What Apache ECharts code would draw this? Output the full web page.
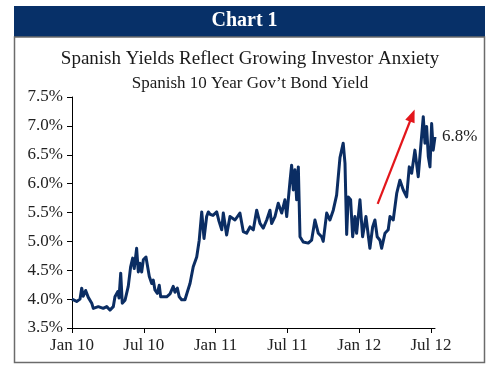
<!DOCTYPE html>
<html>
<head>
<meta charset="utf-8">
<script src="https://cdn.jsdelivr.net/npm/echarts@6/dist/echarts.min.js"></script>
<style>
  html, body { margin: 0; padding: 0; background: #ffffff; }
  #chart { width: 489px; height: 365px; }
</style>
</head>
<body>
<div id="chart"></div>
<script>
// Spanish 10-year government bond yield, Jan 2010 – Jul 2012.
// Positions are months since 1 Jan 2010; yields are in percent.
const months = [
  0, 0.39, 0.67, 0.81, 0.94, 1.14, 1.36, 1.50, 1.65, 1.78,
  2.20, 2.61, 2.90, 3.17, 3.45, 3.59, 3.82, 3.93, 4.07, 4.20,
  4.43, 4.70, 4.90, 5.07, 5.20, 5.40, 5.54, 5.68, 5.82, 5.96,
  6.18, 6.29, 6.46, 6.66, 6.79, 6.93, 7.13, 7.29, 7.41, 7.63,
  7.91, 8.19, 8.46, 8.60, 8.80, 8.96, 9.16, 9.44, 9.63, 9.86,
  10.13, 10.42, 10.63, 10.84, 11.03, 11.25, 11.39, 11.53, 11.78, 12.09,
  12.28, 12.51, 12.64, 12.92, 13.20, 13.62, 14.03, 14.31, 14.59, 14.87,
  15.15, 15.43, 15.71, 15.98, 16.27, 16.54, 16.68, 16.96, 17.23, 17.52,
  17.79, 17.94, 18.21, 18.35, 18.49, 18.63, 18.77, 18.91, 19.05, 19.32,
  19.74, 20.02, 20.30, 20.58, 20.86, 20.99, 21.28, 21.55, 21.83, 22.11,
  22.39, 22.66, 22.81, 22.95, 23.08, 23.28, 23.45, 23.64, 23.78, 24.06,
  24.28, 24.56, 24.89, 25.12, 25.31, 25.50, 25.73, 25.87, 26.15, 26.42,
  26.57, 26.84, 27.13, 27.40, 27.68, 27.96, 28.18, 28.38, 28.65, 28.93,
  29.07, 29.35, 29.49, 29.63, 29.77, 29.91, 30.05, 30.18, 30.33
];
const yields = [
  4.00, 3.96, 4.00, 4.19, 4.05, 4.15, 4.03, 4.05, 3.93, 3.84,
  3.87, 3.84, 3.87, 3.81, 3.87, 4.04, 4.13, 4.02, 4.45, 3.93,
  3.98, 4.22, 4.56, 4.71, 4.53, 4.88, 4.47, 4.62, 4.47, 4.68,
  4.73, 4.71, 4.39, 4.27, 4.33, 4.16, 4.10, 4.24, 4.04, 4.04,
  4.04, 4.09, 4.22, 4.12, 4.19, 4.04, 3.99, 3.99, 4.12, 4.27,
  4.56, 4.73, 5.02, 5.51, 5.05, 5.43, 5.51, 5.47, 5.45, 5.51,
  5.35, 5.20, 5.49, 5.11, 5.43, 5.37, 5.49, 5.17, 5.14, 5.25,
  5.20, 5.54, 5.31, 5.23, 5.37, 5.54, 5.31, 5.43, 5.66, 5.49,
  5.72, 5.43, 6.03, 6.32, 5.89, 6.24, 5.72, 6.29, 5.08, 4.99,
  4.97, 5.02, 5.37, 5.14, 5.08, 5.00, 5.49, 5.37, 5.54, 5.80,
  6.45, 6.70, 6.35, 5.12, 5.77, 5.72, 5.08, 5.43, 5.14, 5.72,
  5.08, 5.43, 4.88, 5.25, 5.37, 5.08, 5.02, 4.88, 5.14, 5.20,
  5.43, 5.37, 5.83, 6.06, 5.89, 5.77, 6.29, 6.18, 6.58, 6.12,
  6.47, 7.16, 6.70, 6.99, 6.47, 6.29, 7.04, 6.58, 6.81
];

// Axis ticks: every six months, labelled by month and two-digit year.
const tickMonths = [0, 6, 12, 18, 24, 30];
const tickLabels = ['Jan 10', 'Jul 10', 'Jan 11', 'Jul 11', 'Jan 12', 'Jul 12'];

// Red trend arrow across the 2012 climb, [months, yield] end points.
const arrowFrom = [25.54, 5.65];
const arrowTo = [28.43, 7.18];

const serif = '"Liberation Serif", "DejaVu Serif", serif';
const navy = '#0b2d63';

const chart = echarts.init(document.getElementById('chart'), null, { renderer: 'canvas' });

chart.setOption({
  animation: false,
  backgroundColor: '#ffffff',
  graphic: [
    { type: 'rect', z: 0, shape: { x: 14, y: 6, width: 471, height: 31 }, style: { fill: '#073068' } },
    { type: 'rect', z: 0, shape: { x: 14.5, y: 37, width: 470, height: 325.5 },
      style: { fill: 'none', stroke: '#6b6b6b', lineWidth: 1.5 } },
    { type: 'text', z: 5, left: 'center', top: 11,
      style: { text: 'Chart 1', fill: '#ffffff', font: 'bold 20px ' + serif } }
  ],
  title: {
    text: 'Spanish Yields Reflect Growing Investor Anxiety',
    subtext: 'Spanish 10 Year Gov\u2019t Bond Yield',
    left: 245,
    textAlign: 'center',
    top: 45,
    itemGap: 6,
    textStyle: { fontFamily: serif, fontSize: 19, fontWeight: 'normal', color: '#1a1a1a' },
    subtextStyle: { fontFamily: serif, fontSize: 17, color: '#1a1a1a' }
  },
  grid: { left: 72, right: 54, top: 97, bottom: 37, containLabel: false },
  xAxis: {
    type: 'value',
    min: 0,
    max: 30.33,
    splitLine: { show: false },
    axisLine: { show: true, lineStyle: { color: '#000000', width: 1 } },
    axisTick: { show: true, length: 5, inside: false, customValues: tickMonths,
      lineStyle: { color: '#000000' } },
    axisLabel: {
      customValues: tickMonths,
      margin: 9,
      fontFamily: serif, fontSize: 17, color: '#222222',
      formatter: function (v) {
        const i = tickMonths.indexOf(Math.round(v));
        return i >= 0 ? tickLabels[i] : '';
      }
    }
  },
  yAxis: {
    type: 'value',
    min: 3.5,
    max: 7.5,
    interval: 0.5,
    splitLine: { show: false },
    axisLine: { show: true, lineStyle: { color: '#000000', width: 1 } },
    axisTick: { show: true, length: 5, inside: false, lineStyle: { color: '#000000' } },
    axisLabel: {
      margin: 9,
      fontFamily: serif, fontSize: 17, color: '#222222',
      formatter: function (v) { return v.toFixed(1) + '%'; }
    }
  },
  series: [
    {
      type: 'line',
      data: months.map(function (m, i) { return [m, yields[i]]; }),
      showSymbol: false,
      symbol: 'none',
      lineStyle: { color: navy, width: 3, join: 'round' },
      endLabel: {
        show: true,
        distance: 7,
        fontFamily: serif, fontSize: 17, color: '#222222',
        formatter: function (p) { return p.value[1].toFixed(1) + '%'; }
      },
      markLine: {
        silent: true,
        symbol: ['none', 'triangle'],
        symbolSize: [10, 13],
        label: { show: false },
        lineStyle: { color: '#e3161b', width: 2.2, type: 'solid' },
        data: [[{ coord: arrowFrom }, { coord: arrowTo }]]
      }
    }
  ]
});
</script>
</body>
</html>
